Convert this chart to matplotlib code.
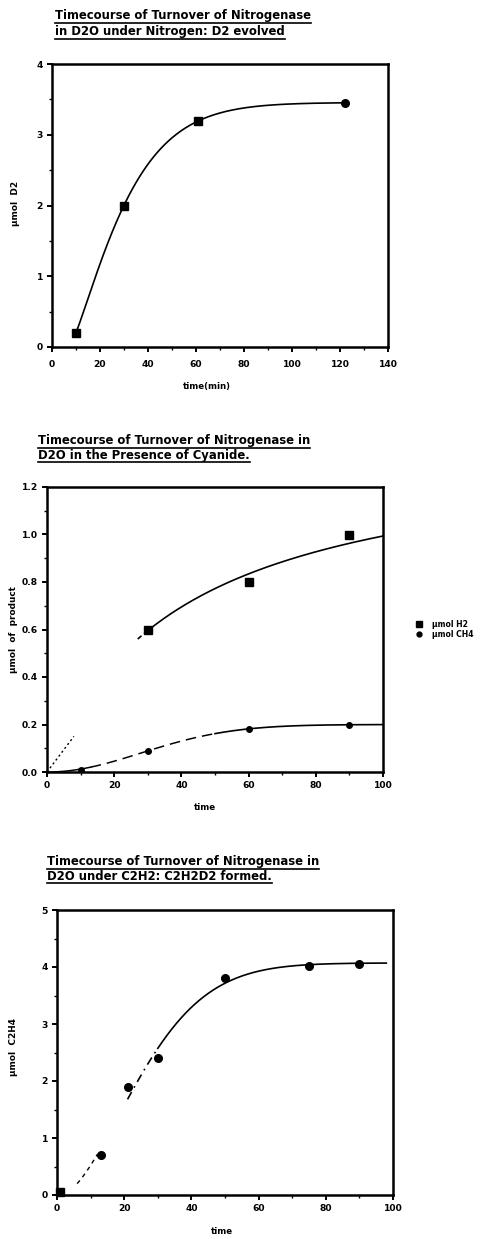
import numpy as np
import matplotlib
matplotlib.use("Agg")
import matplotlib.pyplot as plt
from matplotlib.lines import Line2D
from matplotlib.ticker import MultipleLocator, FormatStrFormatter

# ---- data -------------------------------------------------------------
# Turnover under nitrogen: D2 evolved
d2_time = [10, 30, 61, 122]
d2_umol = [0.2, 2.0, 3.2, 3.45]
d2_marker = ['s', 's', 's', 'o']

# Turnover in the presence of cyanide
h2_time = [30, 60, 90]
h2_umol = [0.6, 0.8, 1.0]
ch4_time = [0, 10, 30, 60, 90]
ch4_umol = [0.0, 0.01, 0.09, 0.18, 0.2]
init_time = [0, 8]
init_umol = [0.0, 0.15]
legend_labels = ['\u00b5mol H2', '\u00b5mol CH4']

# Turnover under C2H2: C2H2D2 formed
c2_time = [1, 13, 21, 30, 50, 75, 90]
c2_umol = [0.05, 0.7, 1.9, 2.4, 3.8, 4.02, 4.05]
c2_marker = ['s', 'o', 'o', 'o', 'o', 'o', 'o']

titles = [
    ["Timecourse of Turnover of Nitrogenase", "in D2O under Nitrogen: D2 evolved"],
    ["Timecourse of Turnover of Nitrogenase in", "D2O in the Presence of Cyanide."],
    ["Timecourse of Turnover of Nitrogenase in", "D2O under C2H2: C2H2D2 formed."],
]
xlabels = ["time(min)", "time", "time"]
ylabels = ["\u00b5mol  D2", "\u00b5mol  of  product", "\u00b5mol  C2H4"]


# ---- curve fitting ----------------------------------------------------
def fit_saturation(t, y, t0_range=(0.0, 0.0)):
    """Least-squares fit of y = A (1 - exp(-((t - t0) / tau) ** n)) by grid search."""
    t = np.asarray(t, float)
    y = np.asarray(y, float)
    t0s = np.linspace(t0_range[0], t0_range[1], 23 if t0_range[1] > t0_range[0] else 1)
    taus = np.linspace(8, 90, 165)
    ns = np.linspace(0.7, 3.0, 93)
    T0, TAU, N = np.meshgrid(t0s, taus, ns, indexing='ij')
    T0, TAU, N = T0.ravel()[:, None], TAU.ravel()[:, None], N.ravel()[:, None]
    z = np.clip(t[None, :] - T0, 0, None) / TAU
    F = 1 - np.exp(-z ** N)
    A = (F * y).sum(1) / np.maximum((F * F).sum(1), 1e-12)
    r = ((A[:, None] * F - y) ** 2).sum(1)
    j = np.argmin(r)
    A, t0, tau, n = A[j], T0[j, 0], TAU[j, 0], N[j, 0]
    return lambda x: A * (1 - np.exp(-(np.clip(np.asarray(x, float) - t0, 0, None) / tau) ** n))


W, H = 484, 1239
DPI = 100
plt.rcParams['font.family'] = ['DejaVu Sans']
plt.rcParams['font.weight'] = 'bold'

fig = plt.figure(figsize=(W / DPI, H / DPI), dpi=DPI)
fig.patch.set_facecolor('white')


def make_axes(left, top, right, bottom):
    return fig.add_axes([left / W, 1 - bottom / H, (right - left) / W, (bottom - top) / H])


def style_axes(ax, xmax, xmaj, ymax, ymaj, yfmt, xpad=3):
    ax.set_xlim(0, xmax)
    ax.set_ylim(0, ymax)
    ax.xaxis.set_major_locator(MultipleLocator(xmaj))
    ax.xaxis.set_minor_locator(MultipleLocator(xmaj / 2))
    ax.yaxis.set_major_locator(MultipleLocator(ymaj))
    ax.yaxis.set_minor_locator(MultipleLocator(ymaj / 2))
    ax.yaxis.set_major_formatter(FormatStrFormatter(yfmt))
    for s in ax.spines.values():
        s.set_linewidth(1.8)
    ax.tick_params(which='major', direction='out', length=3.5, width=1.4,
                   labelsize=6.6, pad=3)
    ax.tick_params(axis='x', which='major', pad=xpad)
    ax.tick_params(which='minor', direction='out', length=2, width=1.0)
    for lab in ax.get_xticklabels() + ax.get_yticklabels():
        lab.set_fontweight('bold')


def place_labels(ax, xlabel, xpos, ylabel, ypos):
    ax.set_xlabel(xlabel, fontsize=6.2, fontweight='bold')
    ax.set_ylabel(ylabel, fontsize=6.4, fontweight='bold')
    ax.xaxis.set_label_coords(xpos[0] / W, 1 - xpos[1] / H, transform=fig.transFigure)
    ax.yaxis.set_label_coords(ypos[0] / W, 1 - ypos[1] / H, transform=fig.transFigure)
    ax.xaxis.label.set_va('center')
    ax.yaxis.label.set_va('center')


LW = 1.2
MS = 5.5

# ---- panel 1 ----------------------------------------------------------
ax1 = make_axes(52, 64, 388, 347)
style_axes(ax1, 140, 20, 4, 1, '%d', xpad=6)
d2_fit = fit_saturation(d2_time, d2_umol, t0_range=(0.0, 9.9))
t1 = np.linspace(d2_time[0], d2_time[-1], 300)
ax1.plot(t1, d2_fit(t1), color='black', lw=LW)
for x, y, mk in zip(d2_time, d2_umol, d2_marker):
    ax1.plot(x, y, marker=mk, color='black', ms=MS, ls='none')
place_labels(ax1, xlabels[0], (207, 387), ylabels[0], (15, 203))

# ---- panel 2 ----------------------------------------------------------
ax2 = make_axes(47, 487, 383, 772)
style_axes(ax2, 100, 20, 1.2, 0.2, '%.1f')

# H2: hyperbolic fit from a Lineweaver-Burk regression
s, i = np.polyfit(1 / np.array(h2_time, float), 1 / np.array(h2_umol, float), 1)
vmax, km = 1 / i, s / i
def h2_fit(t):
    return vmax * t / (km + t)
ta = np.linspace(27, 30.5, 20)
tb = np.linspace(30.5, 100, 200)
ax2.plot(ta, h2_fit(ta), color='black', lw=LW, ls=(0, (3, 2)))
ax2.plot(tb, h2_fit(tb), color='black', lw=LW)

# CH4: saturation fit
ch4_fit = fit_saturation(ch4_time, ch4_umol)
tc1 = np.linspace(0, 13, 40)
tc2 = np.linspace(13, 50, 100)
tc3 = np.linspace(50, 100, 150)
ax2.plot(tc1, ch4_fit(tc1), color='black', lw=LW * 0.9)
ax2.plot(tc2, ch4_fit(tc2), color='black', lw=LW * 0.9, ls=(0, (7, 4)))
ax2.plot(tc3, ch4_fit(tc3), color='black', lw=LW)
ax2.plot(init_time, init_umol, color='black', lw=1.0, ls=(0, (1.5, 2)))

ax2.plot(h2_time, h2_umol, marker='s', color='black', ms=MS, ls='none')
ax2.plot(ch4_time[1:], ch4_umol[1:], marker='o', color='black', ms=4, ls='none')
place_labels(ax2, xlabels[1], (205, 807), ylabels[1], (14, 630))

handles = [Line2D([], [], marker='s', color='black', ms=4, ls='none'),
           Line2D([], [], marker='o', color='black', ms=3.5, ls='none')]
ax2.legend(handles, legend_labels, loc='center left', bbox_to_anchor=(1.09, 0.5),
           frameon=False, handletextpad=1.3, labelspacing=0.15,
           handlelength=0.8, borderaxespad=0, prop={'weight': 'bold', 'size': 5.5})

# ---- panel 3 ----------------------------------------------------------
ax3 = make_axes(57, 910, 393, 1195)
style_axes(ax3, 100, 20, 5, 1, '%d')
c2_fit = fit_saturation(c2_time, c2_umol, t0_range=(-10.0, 1.0))
tA = np.linspace(6, 12, 20)
tB = np.linspace(21, 30, 30)
tC = np.linspace(30, 98, 200)
ax3.plot(tA, c2_fit(tA), color='black', lw=1.0, ls=(0, (3, 3)))
ax3.plot(tB, c2_fit(tB), color='black', lw=LW, ls=(0, (5, 3, 1, 3)))
ax3.plot(tC, c2_fit(tC), color='black', lw=LW)
for x, y, mk in zip(c2_time, c2_umol, c2_marker):
    ax3.plot(x, y, marker=mk, color='black', ms=MS, ls='none', clip_on=False)
place_labels(ax3, xlabels[2], (222, 1232), ylabels[2], (14, 1047))

# ---- underlined titles ------------------------------------------------
title_pos = [(55, 16, 32), (38, 441, 455), (47, 862, 876)]
title_texts = []
for lines, (x0, y1, y2) in zip(titles, title_pos):
    for line, yy in zip(lines, (y1, y2)):
        t = fig.text(x0 / W, 1 - yy / H, line, fontsize=8.4, fontweight='bold',
                     ha='left', va='center')
        title_texts.append(t)

fig.canvas.draw()
renderer = fig.canvas.get_renderer()
for t in title_texts:
    bb = t.get_window_extent(renderer)
    yline = bb.y0 - 0.5
    fig.add_artist(Line2D([bb.x0 / W, bb.x1 / W], [yline / H, yline / H],
                          transform=fig.transFigure, color='black', lw=1.2))

fig.savefig('out.png', dpi=DPI, facecolor='white')
